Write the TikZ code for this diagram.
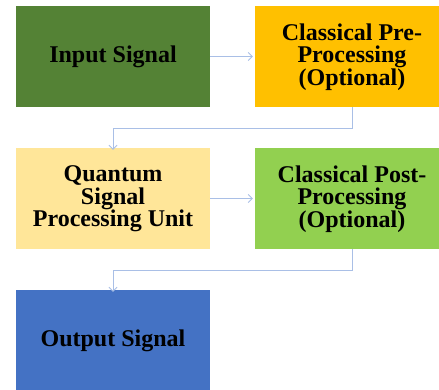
\documentclass[tikz,border=0pt]{standalone}
\usepackage{fontspec}
\setmainfont{Liberation Serif}
\usetikzlibrary{arrows.meta}
\definecolor{cgreen}{HTML}{548235}
\definecolor{corange}{HTML}{FFC000}
\definecolor{cpale}{HTML}{FFE699}
\definecolor{clime}{HTML}{92D050}
\definecolor{cblue}{HTML}{4472C4}
\definecolor{clink}{HTML}{A9BFE6}
\begin{document}
\begin{tikzpicture}[x=1pt,y=-1pt,
  block/.style={rectangle, minimum width=194pt, minimum height=101pt,
    inner sep=0pt, align=center, text depth=0pt,
    font=\fontsize{24}{22.5}\selectfont\bfseries},
  link/.style={draw=clink, line width=0.9pt, -{Straight Barb[length=4pt,width=8pt]}}]
  \useasboundingbox (0,0) rectangle (439,390);
  \clip (0,0) rectangle (439,390);
  % coloured blocks (fill only), labels placed slightly below centre
  \node[block, fill=cgreen]  (inp)  at (113,56.5)  {};
  \node[block, fill=corange] (pre)  at (352,56.5)  {};
  \node[block, fill=cpale]   (qsp)  at (113,198.5) {};
  \node[block, fill=clime]   (post) at (352,198.5) {};
  \node[block, fill=cblue]   (out)  at (113,340.5) {};
  \node[block, minimum size=0pt] (tinp)  at ([yshift=2pt]inp.center)  {Input Signal};
  \node[block, minimum size=0pt] (tpre)  at ([yshift=2pt]pre.center)  {Classical Pre-\\Processing\\(Optional)};
  \node[block, minimum size=0pt] (tqsp)  at ([yshift=2pt]qsp.center)  {Quantum\\Signal\\Processing Unit};
  \node[block, minimum size=0pt] (tpost) at ([yshift=2pt]post.center) {Classical Post-\\Processing\\(Optional)};
  \node[block, minimum size=0pt] (tout)  at ([yshift=2pt]out.center)  {Output Signal};
  \draw[link] (inp.east) -- ([xshift=-2pt]pre.west);
  \draw[link] (qsp.east) -- ([xshift=-2pt]post.west);
  \draw[link] (pre.south) -- ++(0,21.5) -| ([yshift=-2pt]qsp.north);
  \draw[link] (post.south) -- ++(0,21) -| ([yshift=-2pt]out.north);
\end{tikzpicture}
\end{document}
